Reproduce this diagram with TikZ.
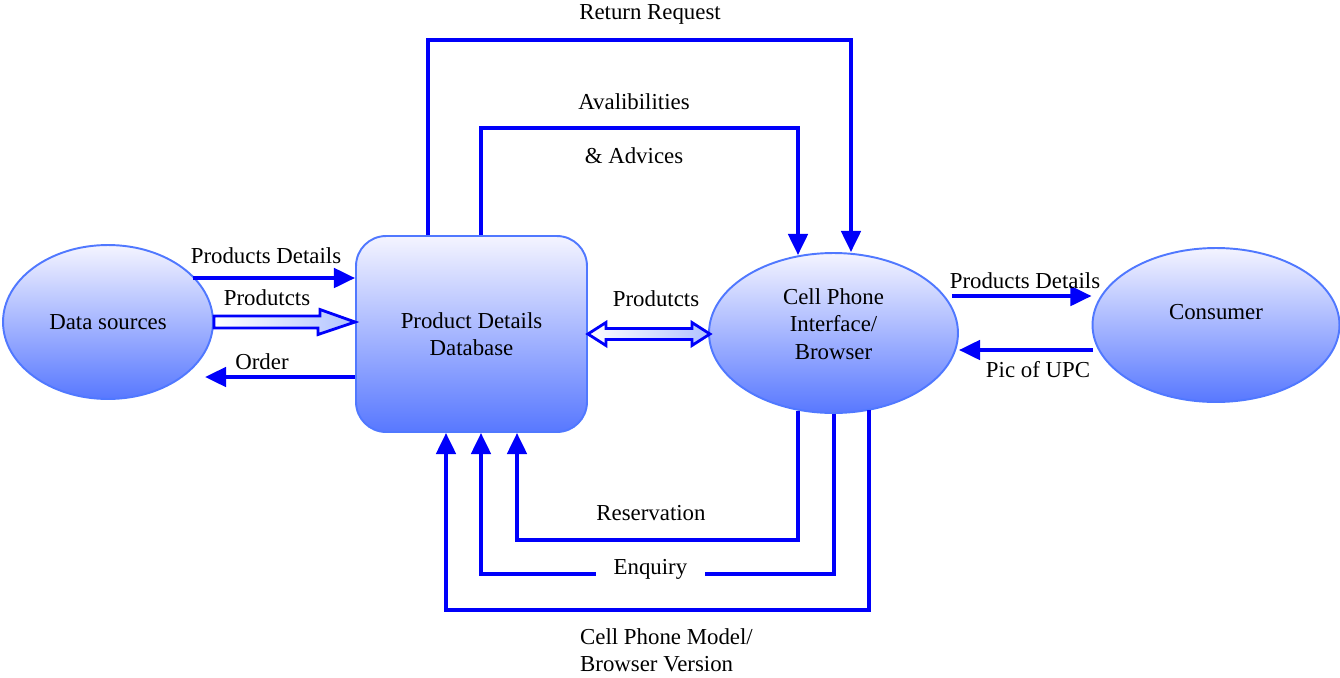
\documentclass[tikz,border=0pt]{standalone}
\usepackage{fontspec}
\setmainfont{Liberation Serif}
\usepackage{tikz}
\usetikzlibrary{calc,shapes.geometric,arrows.meta}
\definecolor{FlowBlue}{RGB}{0, 0, 250}
\definecolor{EdgeBlue}{RGB}{80, 120, 255}
\definecolor{DeepFill}{RGB}{88, 120, 255}
\definecolor{PaleFill}{RGB}{244, 244, 255}

\tikzset{
    every node/.style={font=\fontsize{13}{15.6}\selectfont},
    proc/.style={ellipse, draw=EdgeBlue, line width=1.1pt, top color=PaleFill, bottom color=DeepFill, inner sep=0pt, align=center},
    store/.style={rectangle, rounded corners=0.6cm, draw=EdgeBlue, line width=1.1pt, top color=PaleFill, bottom color=DeepFill, inner sep=0pt, align=center},
    flow/.style={draw=FlowBlue, line width=2.2pt, -{Triangle[length=12pt,width=11pt]}},
    hollow/.style={draw=FlowBlue, line width=1.6pt, left color=white, right color=EdgeBlue!45, line join=miter},
    gap/.style={fill=white, inner xsep=10pt, inner ysep=1pt}
}

\begin{document}
\begin{tikzpicture}[x=0.02cm, y=-0.02cm]
    \useasboundingbox (0,0) rectangle (1340,677);

    % Processes and store
    \node[proc, minimum width=4.2cm, minimum height=3.08cm] (ds) at (108,322) {Data sources};
    \node[store, minimum width=4.62cm, minimum height=3.92cm] (db) at (471.5,334) {Product Details\\Database};
    \node[proc, minimum width=4.98cm, minimum height=3.2cm] (cp) at (833.5,333) {Cell Phone\\Interface/\\Browser\\[-5pt]};
    \node[proc, minimum width=4.94cm, minimum height=3.08cm] (cn) at (1216,325) {Consumer\\[-1pt]};

    % Free ends and bends
    \coordinate (pdin) at (193,278);
    \coordinate (ord) at (205,377);
    \coordinate (pdout) at (952,296);
    \coordinate (upc) at (1093,350);
    \coordinate (rr) at (851,40);
    \coordinate (av) at (798,128);
    \coordinate (rs) at (798,540);
    \coordinate (eq) at (834,574);
    \coordinate (cm) at (869,610);
    \coordinate (eqend) at ($(db.south)+(9.5,0)$);

    % Data sources <-> database
    \draw[flow] (pdin) -- (pdin -| db.west);
    \draw[hollow] ($(ds.east)+(0,-6)$) -- ++(106,0) -- ++(0,-6.5) -- (db.west |- ds.east)
        -- ++(-37,12.5) -- ++(0,-6.5) -- ($(ds.east)+(0,6)$) -- cycle;
    \draw[flow] (db.west |- ord) -- (ord);
    \node at (266,256) {Products Details};
    \node at (267,298) {Produtcts};
    \node at (262,362) {Order};

    % Database <-> cell phone
    \draw[hollow] (db.east) -- ++(18,-11.5) -- ++(0,6) -- ++(86,0) -- ++(0,-6) -- ++(18,11.5)
        -- ++(-18,11.5) -- ++(0,-6) -- ++(-86,0) -- ++(0,6) -- cycle;
    \node at (656,299) {Produtcts};

    % Cell phone <-> consumer
    \draw[flow] (pdout) -- (pdout -| cn.west);
    \draw[flow] (upc) -- (upc -| cp.east);
    \node at (1025,281) {Products Details};
    \node at (1038,370) {Pic of UPC};

    % Top loops
    \draw[flow] ($(db.north)+(-43.5,0)$) |- (rr) -- (rr |- cp.north);
    \draw[flow] ($(db.north)+(9.5,0)$) |- (av) -- ($(av |- cp.north)+(0,3)$);
    \node at (650,14) {Return Request};
    \node at (634,102) {Avalibilities};
    \node at (634,156) {\& Advices};

    % Bottom loops
    \draw[flow] ($(rs |- cp.south)+(0,-3)$) -- (rs) -| ($(db.south)+(45.5,0)$);
    \draw[flow] (eq |- cp.south) -- (eq) -- node[gap, pos=0.52, yshift=0.1cm] {Enquiry} (eq -| eqend) -- (eqend);
    \draw[flow] ($(cm |- cp.south)+(0,-4)$) -- (cm) -| ($(db.south)+(-25.5,0)$);
    \node at (651,513) {Reservation};
    \node[anchor=west, align=left] at (574,650) {Cell Phone Model/\\Browser Version};
\end{tikzpicture}
\end{document}
